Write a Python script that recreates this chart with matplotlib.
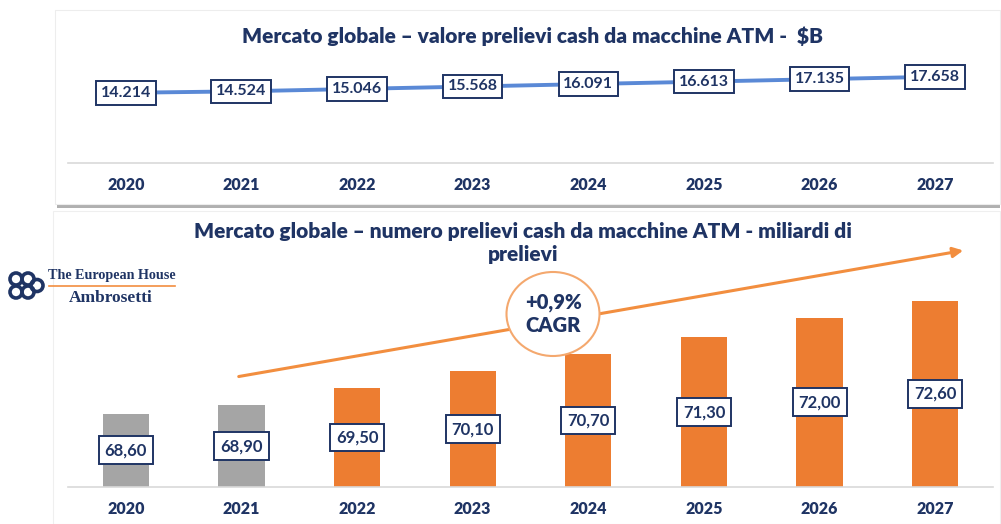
import matplotlib
matplotlib.use("Agg")
import matplotlib.pyplot as plt
from matplotlib.patches import Rectangle, Ellipse, FancyArrowPatch

years = ["2020", "2021", "2022", "2023", "2024", "2025", "2026", "2027"]
valore = [14.214, 14.524, 15.046, 15.568, 16.091, 16.613, 17.135, 17.658]
valore_labels = ["14.214", "14.524", "15.046", "15.568", "16.091", "16.613", "17.135", "17.658"]
numero = [68.60, 68.90, 69.50, 70.10, 70.70, 71.30, 72.00, 72.60]
numero_labels = ["68,60", "68,90", "69,50", "70,10", "70,70", "71,30", "72,00", "72,60"]
historic = [True, True, False, False, False, False, False, False]
title_top = "Mercato globale \u2013 valore prelievi cash da macchine ATM -  $B"
title_bottom = "Mercato globale \u2013 numero prelievi cash da macchine ATM - miliardi di\nprelievi"
cagr_text = "+0,9%\nCAGR"

W, H = 1001, 524
NAVY = "#1F3464"
ORANGE = "#ED7D31"
GRAY = "#A5A5A5"
LINE_BLUE = "#5A89D6"

plt.rcParams['font.family'] = ['Lato', 'DejaVu Sans']

fig = plt.figure(figsize=(W / 100, H / 100), dpi=100)
fig.patch.set_facecolor("white")


def fx(x):
    return x / W


def fy(y):
    return 1 - y / H


def ax_rect(x0, y0, x1, y1):
    return [fx(x0), fy(y1), fx(x1) - fx(x0), fy(y0) - fy(y1)]


# Cards (background) with shadow
fig.patches.append(Rectangle((fx(57), fy(208)), fx(1000) - fx(57), fy(202) - fy(208),
                             transform=fig.transFigure, facecolor="#B0B0B0", edgecolor="none", zorder=-3))
fig.patches.append(Rectangle((fx(55), fy(204)), fx(1000) - fx(55), fy(10) - fy(204),
                             transform=fig.transFigure, facecolor="white", edgecolor="#EDEDED",
                             linewidth=0.8, zorder=-2))
fig.patches.append(Rectangle((fx(53), fy(524)), fx(1000) - fx(53), fy(211) - fy(524),
                             transform=fig.transFigure, facecolor="white", edgecolor="#EFEFEF",
                             linewidth=0.8, zorder=-2))

x = list(range(len(years)))

# ---------------- Top panel ----------------
ax1 = fig.add_axes(ax_rect(68, 50, 993, 163))
ax1.set_zorder(1)
ax1.set_facecolor("none")
ax1.plot(x, valore, color=LINE_BLUE, linewidth=2.8, solid_capstyle="butt", zorder=2)
for xi, v, lab in zip(x, valore, valore_labels):
    ax1.text(xi, v, lab, ha="center", va="center", fontsize=11.5, fontweight="bold", color=NAVY,
             zorder=3,
             bbox=dict(boxstyle="square,pad=0.3", facecolor="white", edgecolor=NAVY, linewidth=1.4))
ax1.set_xlim(-0.5, 7.5)
ax1.set_ylim(-0.86, 23.4)
for s in ["top", "right", "left"]:
    ax1.spines[s].set_visible(False)
ax1.spines["bottom"].set_color("#D9D9D9")
ax1.spines["bottom"].set_linewidth(1.2)
ax1.set_yticks([])
ax1.set_xticks(x)
ax1.set_xticklabels(years, fontsize=11.5, fontweight="heavy", color=NAVY)
ax1.tick_params(axis="x", length=0, pad=10)
fig.text(fx(533), fy(36), title_top, ha="center", va="center", fontsize=15,
         fontweight="heavy", color=NAVY, zorder=5)

# ---------------- Bottom panel ----------------
ax2 = fig.add_axes(ax_rect(68, 220, 993, 487))
ax2.set_zorder(1)
ax2.set_facecolor("none")
base = 66.0
colors = [GRAY if h else ORANGE for h in historic]
ax2.bar(x, [v - base for v in numero], bottom=base, width=0.4, color=colors, zorder=2)
for xi, v, lab in zip(x, numero, numero_labels):
    ax2.text(xi, (base + v) / 2, lab, ha="center", va="center", fontsize=12, fontweight="bold",
             color=NAVY, zorder=3,
             bbox=dict(boxstyle="square,pad=0.35", facecolor="white", edgecolor=NAVY, linewidth=1.4))
ax2.set_xlim(-0.5, 7.5)
ax2.set_ylim(base, base + 267 / 28.25)
for s in ["top", "right", "left"]:
    ax2.spines[s].set_visible(False)
ax2.spines["bottom"].set_color("#D9D9D9")
ax2.spines["bottom"].set_linewidth(1.2)
ax2.set_yticks([])
ax2.set_xticks(x)
ax2.set_xticklabels(years, fontsize=11.5, fontweight="heavy", color=NAVY)
ax2.tick_params(axis="x", length=0, pad=10)
fig.text(fx(523), fy(243), title_bottom, ha="center", va="center", fontsize=15,
         fontweight="heavy", color=NAVY, linespacing=1.2, zorder=5)

# CAGR arrow and circle
arrow = FancyArrowPatch((fx(236), fy(377)), (fx(966), fy(250)), transform=fig.transFigure,
                        arrowstyle="-|>,head_length=6,head_width=3", color="#F28E3F",
                        linewidth=2.2, zorder=5)
fig.patches.append(arrow)
fig.patches.append(Ellipse((fx(553), fy(314)), fx(93), 84 / H, transform=fig.transFigure,
                           facecolor="white", edgecolor="#F4A86E", linewidth=1.5, zorder=6))
fig.text(fx(553), fy(314), cagr_text, ha="center", va="center", fontsize=14.5,
         fontweight="heavy", color=NAVY, linespacing=1.3, zorder=7)

# Logo
for cx, cy in [(16, 279), (16, 292), (28, 279), (28, 292), (37, 285.5)]:
    fig.patches.append(Ellipse((fx(cx), fy(cy)), 12 / W, 12 / H, transform=fig.transFigure,
                               facecolor="none", edgecolor=NAVY, linewidth=2.6, zorder=6))
fig.text(fx(112), fy(276), "The European House", ha="center", va="center",
         family="Liberation Serif", fontsize=10.2, fontweight="bold", color=NAVY, zorder=6)
fig.lines.append(plt.Line2D([fx(49), fx(175)], [fy(286), fy(286)], transform=fig.transFigure,
                            color="#F28E3F", linewidth=1.2, zorder=6))
fig.text(fx(111), fy(298), "Ambrosetti", ha="center", va="center",
         family="Liberation Serif", fontsize=12.5, fontweight="bold", color=NAVY, zorder=6)

fig.savefig("out.png", dpi=100, facecolor="white")
